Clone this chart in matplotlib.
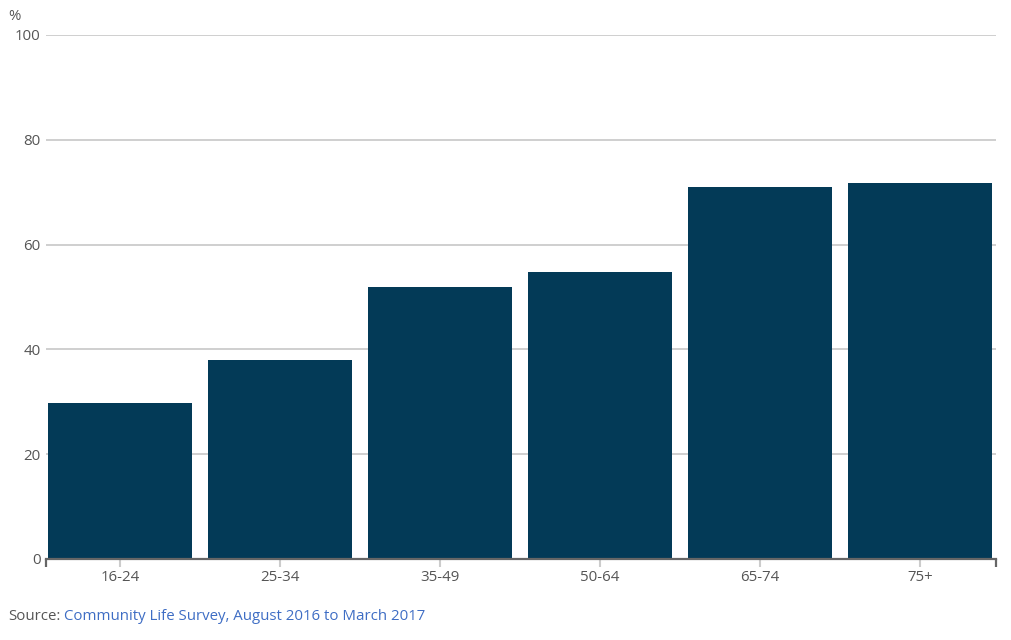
import matplotlib.pyplot as plt
import numpy as np

plt.rcParams["font.family"] = ["Open Sans", "DejaVu Sans"]

age_groups = ["16-24", "25-34", "35-49", "50-64", "65-74", "75+"]
percent = [29.7, 37.9, 52.0, 54.8, 70.9, 71.8]
y_ticks = [0, 20, 40, 60, 80, 100]

BAR = "#033a57"
TEXT = "#555555"
GRID = "#cccccc"
FS = 10.8

fig = plt.figure(figsize=(10.12, 6.4), dpi=100)
ax = fig.add_axes([46 / 1012, 81 / 640, 950 / 1012, 524 / 640])

x = np.arange(len(age_groups))
ax.bar(x, percent, width=0.9, color=BAR, zorder=2)

ax.set_xlim(-0.4625, 5.475)
ax.set_ylim(0, 100)
ax.set_yticks(y_ticks)
ax.set_yticklabels([str(v) for v in y_ticks])
ax.set_xticks(x)
ax.set_xticklabels(age_groups)

for v in y_ticks[1:]:
    ax.axhline(v, color=GRID, lw=1.3, zorder=1)

for s in ["top", "right", "left"]:
    ax.spines[s].set_visible(False)
ax.spines["bottom"].set_color("#666666")
ax.spines["bottom"].set_linewidth(1.6)
ax.spines["bottom"].set_zorder(3)

ax.tick_params(axis="y", length=0, pad=4, labelsize=FS, labelcolor=TEXT)
ax.tick_params(axis="x", length=6, width=1.5, color=GRID, pad=2,
               labelsize=FS, labelcolor=TEXT)

# end caps of the x axis
ax.set_xticks([-0.4625, 5.475], minor=True)
ax.tick_params(axis="x", which="minor", length=6, width=1.6, color="#666666")

fig.text(8 / 1012, 1 - 16 / 640, "%", fontsize=FS, color=TEXT, va="center")

fig.text(8 / 1012, 1 - 617 / 640, "Source:", fontsize=FS, color=TEXT, va="center")
fig.text(64 / 1012, 1 - 617 / 640, "Community Life Survey, August 2016 to March 2017",
         fontsize=FS, color="#3e6dc4", va="center")

fig.savefig("out.png", dpi=100)
